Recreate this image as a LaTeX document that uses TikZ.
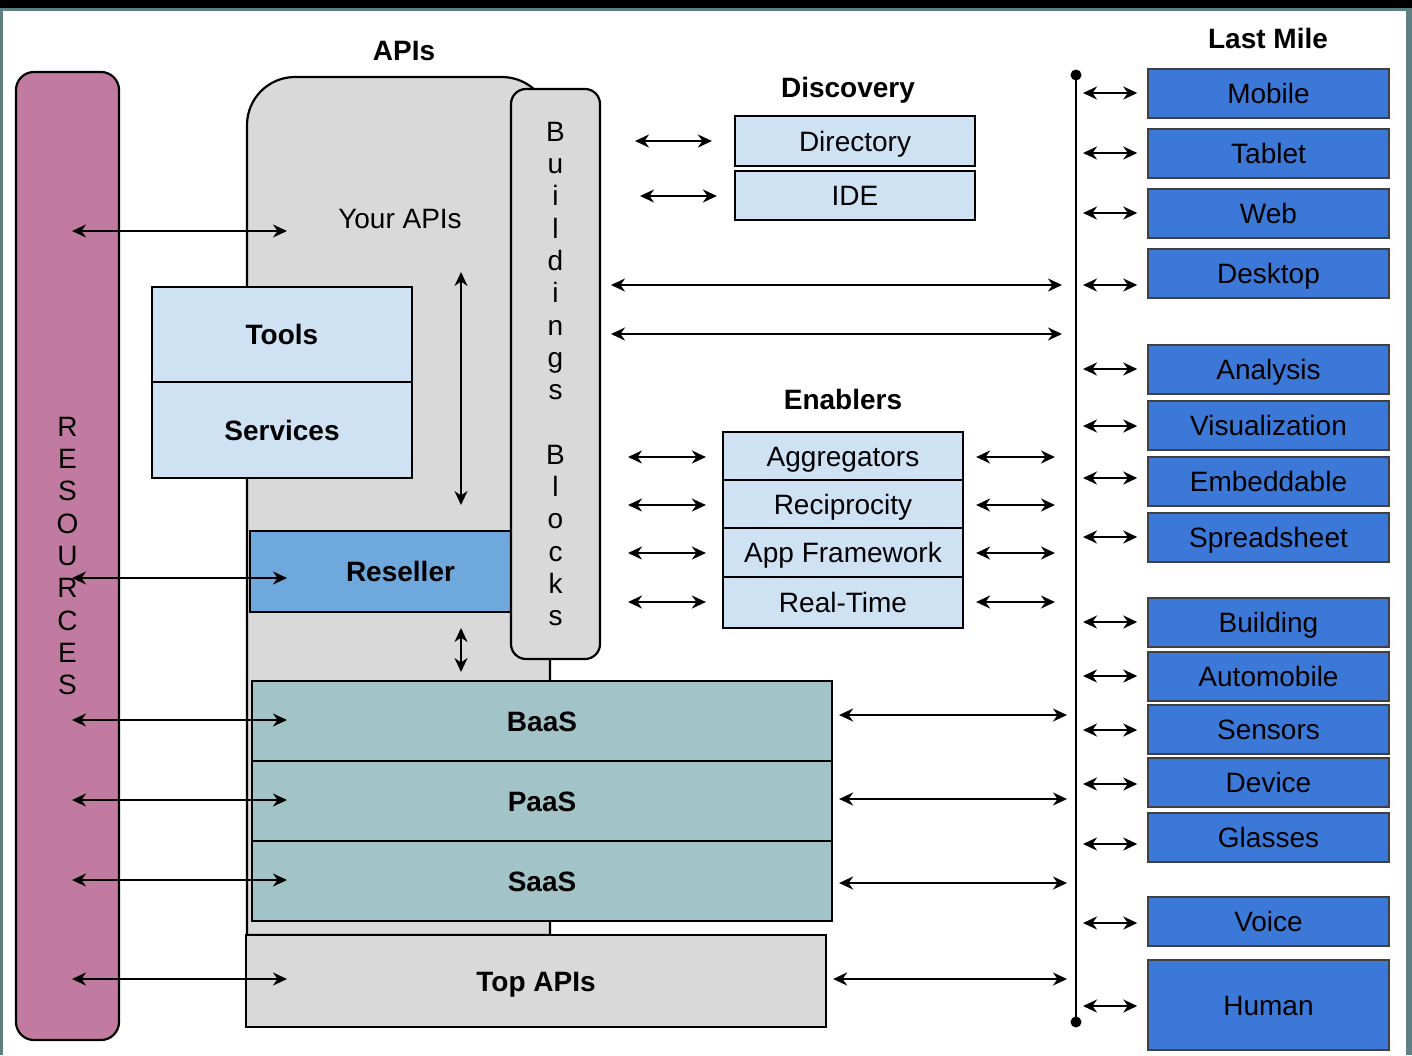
\documentclass[tikz,border=0pt]{standalone}
\usepackage{fontspec}
\setmainfont{Liberation Sans}
\usetikzlibrary{arrows.meta,calc}
\definecolor{framec}{HTML}{5F7F82}
\definecolor{pinkc}{HTML}{C27BA0}
\definecolor{lightb}{HTML}{CFE2F3}
\definecolor{midb}{HTML}{6FA8DC}
\definecolor{greyc}{HTML}{D9D9D9}
\definecolor{tealc}{HTML}{A2C4C9}
\definecolor{darkb}{HTML}{3C78D8}
\newcommand\bodyfont{\fontsize{28}{32.3}\selectfont}
\begin{document}
\begin{tikzpicture}[x=1pt,y=-1pt,
  box/.style={draw, line width=2.2pt, inner sep=0pt, font=\bodyfont, text height=20pt, text depth=0pt},
  bbox/.style={box, font=\bodyfont\bfseries},
  lmbox/.style={draw=black!75, line width=1.5pt, fill=darkb, inner sep=0pt, font=\bodyfont,
     text height=20pt, text depth=0pt, minimum width=241pt},
  title/.style={font=\bodyfont\bfseries, inner sep=0pt, text height=20pt, text depth=0pt},
  arr/.style={line width=2.2pt, {Stealth[length=14pt,width=13pt,inset=4.5pt]}-{Stealth[length=14pt,width=13pt,inset=4.5pt]}},
  ]
\useasboundingbox (0,0) rectangle (1412,1055);
% frame
\fill[framec] (0,0) rectangle (1412,1055);
\fill[black] (0,0) rectangle (1412,8);
\fill[white] (3,11) rectangle (1406,1055);

% resources
\node[draw, line width=2.2pt, fill=pinkc, rounded corners=18pt, minimum width=103pt, minimum height=968pt,
  inner sep=0pt, align=center, font=\bodyfont] (res) at (67.5,556) {R\\E\\S\\O\\U\\R\\C\\E\\S};

% APIs grey shape
\draw[line width=2.2pt, fill=greyc] (247,935) [rounded corners=48pt] -- (247,77) -- (550,77) [sharp corners] -- (550,935) -- cycle;
\node[title] (apis) at (404,50) {APIs};
\node[font=\bodyfont, inner sep=0pt, text height=20pt, text depth=0pt] (your) at (400,218) {Your APIs};

\node[bbox, fill=lightb, minimum width=260pt, minimum height=95pt] (tools) at (282,334.5) {Tools};
\node[bbox, fill=lightb, minimum width=260pt, minimum height=96pt] (services) at (282,430) {Services};
\node[bbox, fill=midb, minimum width=261pt, minimum height=81pt,
  label={[font=\bodyfont\bfseries, inner sep=0pt, text height=20pt, text depth=0pt, xshift=20pt]center:Reseller}] (reseller) at (380.5,571.5) {};

\node[draw, line width=2.2pt, fill=greyc, rounded corners=15pt, minimum width=89pt, minimum height=570pt,
  inner sep=0pt, align=center, font=\bodyfont] (blocks) at (555.5,374)
  {B\\u\\i\\l\\d\\i\\n\\g\\s\\\mbox{}\\B\\l\\o\\c\\k\\s};

\node[bbox, fill=tealc, minimum width=580pt, minimum height=80pt] (baas) at (542,721) {BaaS};
\node[bbox, fill=tealc, minimum width=580pt, minimum height=80pt] (paas) at (542,801) {PaaS};
\node[bbox, fill=tealc, minimum width=580pt, minimum height=80pt] (saas) at (542,881) {SaaS};
\node[bbox, fill=greyc, minimum width=580pt, minimum height=92pt] (top) at (536,981) {Top APIs};

% discovery
\node[title] (disc) at (848,87) {Discovery};
\node[box, fill=lightb, minimum width=240pt, minimum height=50pt] (dir) at (855,141) {Directory};
\node[box, fill=lightb, minimum width=240pt, minimum height=49pt] (ide) at (855,195.5) {IDE};

% enablers
\node[title] (enab) at (843,399) {Enablers};
\node[box, fill=lightb, minimum width=240pt, minimum height=48pt] (agg) at (843,456) {Aggregators};
\node[box, fill=lightb, minimum width=240pt, minimum height=48pt] (rec) at (843,504) {Reciprocity};
\node[box, fill=lightb, minimum width=240pt, minimum height=49pt] (app) at (843,552.5) {App Framework};
\node[box, fill=lightb, minimum width=240pt, minimum height=51pt] (rt) at (843,602.5) {Real-Time};

% last mile
\node[title] (lm) at (1268,38) {Last Mile};
\foreach \n/\t/\c/\h in {mobile/Mobile/93.5/49, tablet/Tablet/153.5/49, web/Web/213.5/49, desktop/Desktop/273.5/49,
  analysis/Analysis/369.5/49, visual/Visualization/425.5/49, embed/Embeddable/481.5/49, spread/Spreadsheet/537.5/49,
  building/Building/622.5/49, auto/Automobile/676.5/49, sensors/Sensors/729.5/49, device/Device/782.5/49,
  glasses/Glasses/837.5/49, voice/Voice/921.5/49, human/Human/1005/90}
  \node[lmbox, minimum height=\h pt] (\n) at (1268.5,\c) {\t};

% bus
\coordinate (bustop) at (1076,75);
\coordinate (busbot) at (1076,1022);
\draw[line width=2.2pt] (bustop) -- (busbot);
\fill (bustop) circle (5.5pt);
\fill (busbot) circle (5.5pt);

% arrows: bus to last mile
\foreach \n/\y in {mobile/93, tablet/153, web/213, desktop/285, analysis/369, visual/426, embed/478, spread/537,
  building/622, auto/676, sensors/730, device/784, glasses/844, voice/923, human/1006}{
  \coordinate (b-\n) at (1083,\y);
  \draw[arr, shorten >=10pt] (b-\n) -- (b-\n -| \n.west);
}

% arrows: resources to API area
\foreach \y [count=\i] in {231,578,720,800,880,979}{
  \coordinate (ra\i) at (72,\y);
  \coordinate (rb\i) at (287,\y);
  \draw[arr] (ra\i) -- (rb\i);
}

% vertical arrows
\coordinate (v1a) at (461,272); \coordinate (v1b) at (461,505);
\draw[arr] (v1a) -- (v1b);
\coordinate (v2a) at (461,628); \coordinate (v2b) at (461,672);
\draw[arr] (v2a) -- (v2b);

% discovery arrows
\coordinate (d1) at (635,141); \draw[arr, shorten >=22pt] (d1) -- (d1 -| dir.west);
\coordinate (d2) at (640,196); \draw[arr, shorten >=17pt] (d2) -- (d2 -| ide.west);

% long arrows from blocks
\coordinate (l1) at (611,285); \coordinate (l1e) at (1062,285); \draw[arr] (l1) -- (l1e);
\coordinate (l2) at (611,334); \coordinate (l2e) at (1062,334); \draw[arr] (l2) -- (l2e);

% enablers arrows
\foreach \n/\y in {agg/457, rec/505, app/553, rt/602}{
  \coordinate (el-\n) at (628,\y);
  \draw[arr, shorten >=16pt] (el-\n) -- (el-\n -| \n.west);
  \coordinate (er-\n) at (1055,\y);
  \draw[arr, shorten >=12pt] (er-\n) -- (er-\n -| \n.east);
}

% stack to bus arrows
\foreach \n/\y in {baas/715, paas/799, saas/883, top/979}{
  \coordinate (s-\n) at (1067,\y);
  \draw[arr, shorten >=6pt] (s-\n) -- (s-\n -| \n.east);
}
\end{tikzpicture}
\end{document}
